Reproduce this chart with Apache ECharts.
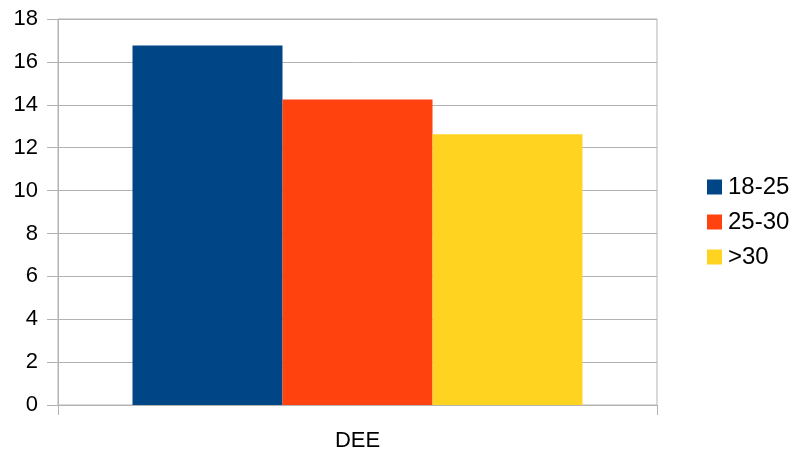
<!DOCTYPE html>
<html><head><meta charset="utf-8">
<script src="https://cdn.jsdelivr.net/npm/echarts@6/dist/echarts.min.js"></script>
<style>html,body{margin:0;padding:0;background:#fff}#c{width:794px;height:452px}</style>
</head><body><div id="c"></div>
<script>
const categories = ['DEE'];
const seriesNames = ['18-25', '25-30', '>30'];
const values1825 = [16.77];
const values2530 = [14.25];
const valuesOver30 = [12.62];
const colors = ['#004586', '#ff420e', '#ffd320'];
const font = '"Liberation Sans", Arial, sans-serif';

const chart = echarts.init(document.getElementById('c'), null, {renderer: 'canvas'});
const dataSets = [values1825, values2530, valuesOver30];
chart.setOption({
  animation: false,
  grid: {left: 58, right: 137, top: 19, bottom: 47, show: true, borderColor: '#b3b3b3', borderWidth: 1},
  legend: {
    orient: 'vertical', left: 702, top: 170,
    itemWidth: 15, itemHeight: 15, itemGap: 11,
    icon: 'rect',
    textStyle: {fontFamily: font, fontSize: 24, color: '#000', padding: [0,0,0,1]},
    data: seriesNames
  },
  xAxis: {
    type: 'category', data: categories,
    axisLine: {lineStyle: {color: '#b3b3b3'}},
    axisTick: {show: true, length: 10, lineStyle: {color: '#b3b3b3'}},
    axisLabel: {fontFamily: font, fontSize: 22, color: '#000', margin: 25},
    splitLine: {show: false}
  },
  yAxis: {
    type: 'value', min: 0, max: 18, interval: 2,
    axisLine: {show: true, lineStyle: {color: '#b3b3b3'}},
    axisTick: {show: true, length: 11, lineStyle: {color: '#b3b3b3'}},
    axisLabel: {fontFamily: font, fontSize: 22, color: '#000', margin: 20},
    splitLine: {lineStyle: {color: '#b3b3b3'}}
  },
  series: seriesNames.map((n, i) => ({
    name: n, type: 'bar', data: dataSets[i],
    itemStyle: {color: colors[i]},
    barWidth: 150, barGap: '0%', barCategoryGap: '24.7%'
  }))
});
</script></body></html>
